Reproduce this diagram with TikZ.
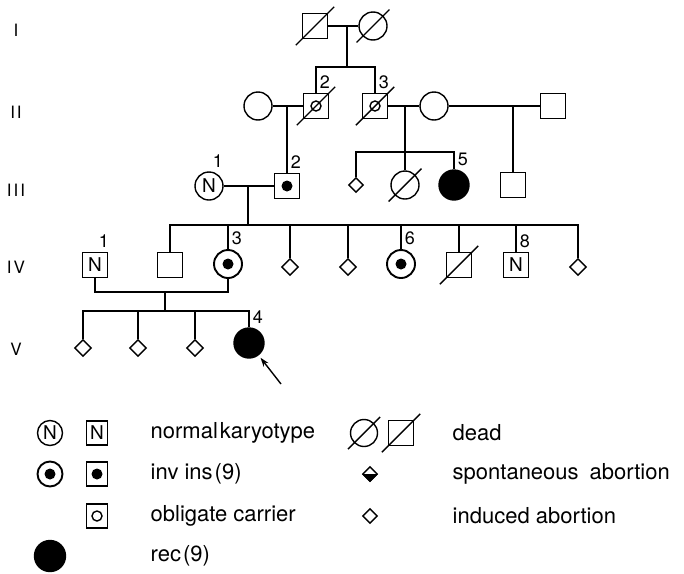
\documentclass[tikz,border=0pt]{standalone}
\usepackage{fontspec}
\setmainfont{TeX Gyre Heros}
\usetikzlibrary{arrows.meta,shapes.geometric,positioning}

\newcommand{\deadslash}[1]{\draw ([shift={(-6,-6)}]#1.south west) -- ([shift={(6,6)}]#1.north east);}

\begin{document}
\begin{tikzpicture}[x=1pt, y=1pt, line width=1.4pt, >={Stealth[length=9pt,width=6pt]},
	male/.style={draw, rectangle, minimum size=25pt, inner sep=0pt},
	female/.style={draw, circle, minimum size=28pt, inner sep=0pt},
	abortion/.style={draw, diamond, minimum size=17pt, inner sep=0pt},
	affected/.style={fill=black},
	carrier/.style={path picture={\fill (path picture bounding box.center) circle (5.5pt);}},
	obligate/.style={path picture={\draw (path picture bounding box.center) circle (5pt);}},
	num/.style={font=\fontsize{18}{18}\selectfont, inner sep=1pt},
	gen/.style={font=\fontsize{17}{17}\selectfont},
	karyo/.style={font=\fontsize{19}{19}\selectfont},
	legtext/.style={anchor=west, inner sep=0pt, font=\fontsize{22}{22}\selectfont}]
		\useasboundingbox (0,0) rectangle (684,-573);
		% generation numbers
		\node[gen] (gI)   at (16,-30)  {I};
		\node[gen] (gII)  at (16,-112) {I\kern2pt I};
		\node[gen] (gIII) at (16,-190) {I\kern2pt I\kern2pt I};
		\node[gen] (gIV)  at (16,-267) {I\kern2pt V};
		\node[gen] (gV)   at (16,-349) {V};
		% generation I
		\node[male]   (I1) at (315,-26) {};
		\node[female] (I2) at (373,-26) {};
		\deadslash{I1}
		\deadslash{I2}
		\coordinate (mI) at (347,-26);
		\coordinate (sI) at (347,-67);
		% generation II
		\node[female]          (II1) at (258,-106) {};
		\node[male, obligate]  (II2) at (316,-106) {};
		\node[male, obligate]  (II3) at (375,-106) {};
		\node[female]          (II4) at (434,-106) {};
		\node[male]            (II5) at (553,-106) {};
		\deadslash{II2}
		\deadslash{II3}
		\node[num, above right=3pt] (lII2) at (II2.north) {2};
		\node[num, above right=3pt] (lII3) at (II3.north) {3};
		\coordinate (mII1) at (287,-106);
		\coordinate (mII2) at (405,-106);
		\coordinate (mII3) at (513,-106);
		\coordinate (sIII) at (405,-152);
		% generation III
		\node[female, karyo]      (III1) at (209,-186) {N};
		\node[male, carrier]      (III2) at (287,-186) {};
		\node[abortion, minimum size=15pt] (III3) at (356,-185) {};
		\node[female]             (III4) at (405,-185) {};
		\node[female, affected, minimum size=30pt] (III5) at (454,-185) {};
		\node[male]               (III6) at (513,-185) {};
		\deadslash{III4}
		\node[num, above right=3pt] (lIII1) at (III1.north) {1};
		\node[num, above right=3pt] (lIII2) at (III2.north) {2};
		\node[num, above right=3pt] (lIII5) at (III5.north) {5};
		\coordinate (mIII) at (248,-186);
		\coordinate (sIV)  at (248,-225);
		% generation IV
		\node[male, karyo]        (IV1) at (95,-265)  {N};
		\node[male]               (IV2) at (170,-265) {};
		\node[female, carrier, line width=1.9pt] (IV3) at (228,-264) {};
		\node[abortion]           (IV4) at (290,-267) {};
		\node[abortion]           (IV5) at (348,-267) {};
		\node[female, carrier, line width=1.9pt] (IV6) at (401,-264) {};
		\node[male]               (IV7) at (459,-265) {};
		\node[male, karyo]        (IV8) at (516,-265) {N};
		\node[abortion]           (IV9) at (578,-267) {};
		\deadslash{IV7}
		\node[num, above right=3pt] (lIV1) at (IV1.north) {1};
		\node[num, above right=3pt] (lIV3) at (IV3.north) {3};
		\node[num, above right=3pt] (lIV6) at (IV6.north) {6};
		\node[num, above right=3pt] (lIV8) at (IV8.north) {8};
		\coordinate (mIV) at (165,-292);
		\coordinate (sV)  at (165,-311);
		% generation V
		\node[abortion] (V1) at (83,-348)  {};
		\node[abortion] (V2) at (138,-348) {};
		\node[abortion] (V3) at (195,-348) {};
		\node[female, affected, minimum size=30pt] (V4) at (249,-343) {};
		\node[num, above right=3pt] (lV4) at (V4.north) {4};
		\coordinate (arrV) at (281,-384);
		% lines of descent
		\draw (I1) -- (I2);
		\draw (mI) -- (sI);
		\draw (II2) |- (sI) -| (II3);
		\draw (II1) -- (II2);
		\draw (II3) -- (II4) -- (II5);
		\draw (mII1) -- (III2);
		\draw (mII2) -- (III4);
		\draw (mII3) -- (III6);
		\draw (III3) |- (sIII) -| (III5);
		\draw (III1) -- (III2);
		\draw (mIII) -- (sIV);
		\draw (IV2) |- (sIV) -| (IV9);
		\foreach \c in {IV3,IV4,IV5,IV6,IV7,IV8}
			\draw (\c) -- (\c |- sIV);
		\draw (IV1) |- (mIV) -| (IV3);
		\draw (mIV) -- (sV);
		\draw (V1) |- (sV) -| (V4);
		\foreach \c in {V2,V3}
			\draw (\c) -- (\c |- sV);
		\draw[->, shorten >=3pt] (arrV) -- (V4);
		% legend
		\node[female, karyo, minimum size=25pt] (kN1) at (50,-433) {N};
		\node[male, karyo, minimum width=21pt, minimum height=24pt] (kN2) at (97,-433) {N};
		\node[legtext] (tN) at (150,-433) {normal\kern2pt karyotype};
		\node[female, minimum size=27pt] (kD1) at (364,-433) {};
		\node[male, minimum size=25pt]   (kD2) at (401,-433) {};
		\deadslash{kD1}
		\deadslash{kD2}
		\node[legtext] (tD) at (452,-433) {dead};
		\node[female, carrier, line width=1.9pt, minimum size=25pt] (kC1) at (50,-474) {};
		\node[male, carrier, minimum width=21pt, minimum height=24pt] (kC2) at (97,-474) {};
		\node[legtext] (tC) at (150,-474) {inv ins\kern2pt(9)};
		\node[abortion, minimum size=15pt] (kS) at (370,-474) {};
		\fill (kS.west) -- (kS.south) -- (kS.east) -- cycle;
		\node[legtext] (tS) at (452,-474) {spontaneous\hspace{11pt}abortion};
		\node[male, obligate, minimum width=21pt, minimum height=24pt] (kO) at (97,-516) {};
		\node[legtext] (tO) at (150,-516) {obligate carrier};
		\node[abortion, minimum size=15pt] (kI) at (370,-516) {};
		\node[legtext] (tI) at (452,-516) {induced abortion};
		\node[female, affected, minimum size=31pt] (kR) at (50,-556) {};
		\node[legtext] (tR) at (150,-556) {rec\kern2pt(9)};
	\end{tikzpicture}
\end{document}
